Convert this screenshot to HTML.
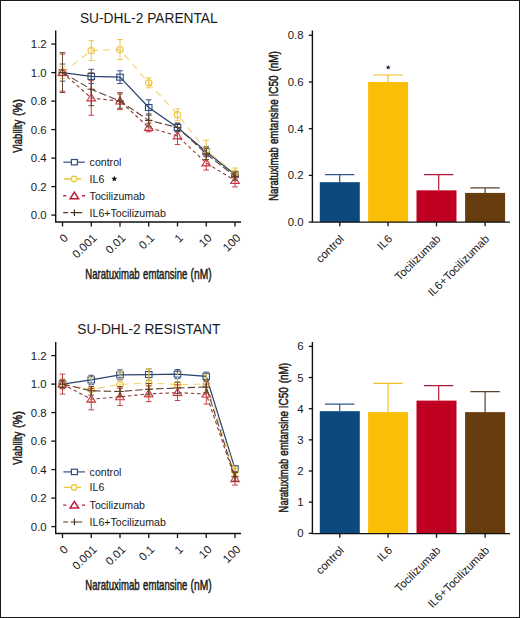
<!DOCTYPE html>
<html><head><meta charset="utf-8"><style>
html,body{margin:0;padding:0;background:#fff;width:520px;height:618px;overflow:hidden}
svg{display:block}
text{font-family:"Liberation Sans", sans-serif}
</style></head><body>
<svg width="520" height="618" viewBox="0 0 520 618" font-family='"Liberation Sans", sans-serif'>
<rect x="0" y="0" width="520" height="618" fill="#fff"/>
<text x="79.9" y="22.60" font-size="14.5" textLength="137.8" lengthAdjust="spacingAndGlyphs" fill="#1a1a1a">SU-DHL-2 PARENTAL</text>
<path d="M55.7,30.50 V222.00 H241.0" fill="none" stroke="#111" stroke-width="1.4"/>
<path d="M51.3,215.10 H55.7" stroke="#111" stroke-width="1.3"/>
<text x="46.7" y="219.15" font-size="11.4" text-anchor="end" fill="#1a1a1a">0.0</text>
<path d="M51.3,186.60 H55.7" stroke="#111" stroke-width="1.3"/>
<text x="46.7" y="190.65" font-size="11.4" text-anchor="end" fill="#1a1a1a">0.2</text>
<path d="M51.3,158.10 H55.7" stroke="#111" stroke-width="1.3"/>
<text x="46.7" y="162.15" font-size="11.4" text-anchor="end" fill="#1a1a1a">0.4</text>
<path d="M51.3,129.60 H55.7" stroke="#111" stroke-width="1.3"/>
<text x="46.7" y="133.65" font-size="11.4" text-anchor="end" fill="#1a1a1a">0.6</text>
<path d="M51.3,101.10 H55.7" stroke="#111" stroke-width="1.3"/>
<text x="46.7" y="105.15" font-size="11.4" text-anchor="end" fill="#1a1a1a">0.8</text>
<path d="M51.3,72.60 H55.7" stroke="#111" stroke-width="1.3"/>
<text x="46.7" y="76.65" font-size="11.4" text-anchor="end" fill="#1a1a1a">1.0</text>
<path d="M51.3,44.10 H55.7" stroke="#111" stroke-width="1.3"/>
<text x="46.7" y="48.15" font-size="11.4" text-anchor="end" fill="#1a1a1a">1.2</text>
<path d="M62.50,222.00 V226.50" stroke="#111" stroke-width="1.3"/>
<text x="68.70" y="238.60" font-size="11.5" text-anchor="end" transform="rotate(-45 68.70 238.60)" fill="#1a1a1a">0</text>
<path d="M91.25,222.00 V226.50" stroke="#111" stroke-width="1.3"/>
<text x="97.45" y="238.60" font-size="11.5" text-anchor="end" transform="rotate(-45 97.45 238.60)" fill="#1a1a1a">0.001</text>
<path d="M120.00,222.00 V226.50" stroke="#111" stroke-width="1.3"/>
<text x="126.20" y="238.60" font-size="11.5" text-anchor="end" transform="rotate(-45 126.20 238.60)" fill="#1a1a1a">0.01</text>
<path d="M148.75,222.00 V226.50" stroke="#111" stroke-width="1.3"/>
<text x="154.95" y="238.60" font-size="11.5" text-anchor="end" transform="rotate(-45 154.95 238.60)" fill="#1a1a1a">0.1</text>
<path d="M177.50,222.00 V226.50" stroke="#111" stroke-width="1.3"/>
<text x="183.70" y="238.60" font-size="11.5" text-anchor="end" transform="rotate(-45 183.70 238.60)" fill="#1a1a1a">1</text>
<path d="M206.25,222.00 V226.50" stroke="#111" stroke-width="1.3"/>
<text x="212.45" y="238.60" font-size="11.5" text-anchor="end" transform="rotate(-45 212.45 238.60)" fill="#1a1a1a">10</text>
<path d="M235.00,222.00 V226.50" stroke="#111" stroke-width="1.3"/>
<text x="241.20" y="238.60" font-size="11.5" text-anchor="end" transform="rotate(-45 241.20 238.60)" fill="#1a1a1a">100</text>
<text x="85.33" y="278.60" font-size="14.4" textLength="54.24" lengthAdjust="spacingAndGlyphs" fill="#1a1a1a" stroke="#1a1a1a" stroke-width="0.5">Naratuximab</text>
<text x="143.07" y="278.60" font-size="14.4" textLength="44.25" lengthAdjust="spacingAndGlyphs" fill="#1a1a1a" stroke="#1a1a1a" stroke-width="0.5">emtansine</text>
<text x="190.58" y="278.60" font-size="14.4" textLength="21.09" lengthAdjust="spacingAndGlyphs" fill="#1a1a1a" stroke="#1a1a1a" stroke-width="0.5">(nM)</text>
<text x="-0.05" y="0" font-size="12.6" textLength="32.88" lengthAdjust="spacingAndGlyphs" fill="#1a1a1a" stroke="#1a1a1a" stroke-width="0.5" transform="translate(21.60 152.60) rotate(-90)">Viability</text>
<text x="-0.65" y="0" font-size="12.6" textLength="16.86" lengthAdjust="spacingAndGlyphs" fill="#1a1a1a" stroke="#1a1a1a" stroke-width="0.5" transform="translate(21.60 115.40) rotate(-90)">(%)</text>
<polyline points="62.50,72.60 91.25,76.45 120.00,77.16 148.75,107.51 177.50,127.46 206.25,151.69 235.00,174.49" fill="none" stroke="#2a4270" stroke-width="1.25"/>
<path d="M62.50,64.05 V81.15 M59.70,64.05 H65.30 M59.70,81.15 H65.30" stroke="#34527f" stroke-width="1.0" fill="none"/>
<path d="M91.25,69.32 V83.57 M88.45,69.32 H94.05 M88.45,83.57 H94.05" stroke="#34527f" stroke-width="1.0" fill="none"/>
<path d="M120.00,70.75 V83.57 M117.20,70.75 H122.80 M117.20,83.57 H122.80" stroke="#34527f" stroke-width="1.0" fill="none"/>
<path d="M148.75,99.82 V115.21 M145.95,99.82 H151.55 M145.95,115.21 H151.55" stroke="#34527f" stroke-width="1.0" fill="none"/>
<path d="M177.50,123.19 V131.74 M174.70,123.19 H180.30 M174.70,131.74 H180.30" stroke="#34527f" stroke-width="1.0" fill="none"/>
<path d="M206.25,146.70 V156.67 M203.45,146.70 H209.05 M203.45,156.67 H209.05" stroke="#34527f" stroke-width="1.0" fill="none"/>
<path d="M235.00,171.64 V177.34 M232.20,171.64 H237.80 M232.20,177.34 H237.80" stroke="#34527f" stroke-width="1.0" fill="none"/>
<rect x="59.25" y="69.60" width="6.50" height="6.00" fill="none" stroke="#2e4a7c" stroke-width="1.1"/>
<rect x="88.00" y="73.45" width="6.50" height="6.00" fill="none" stroke="#2e4a7c" stroke-width="1.1"/>
<rect x="116.75" y="74.16" width="6.50" height="6.00" fill="none" stroke="#2e4a7c" stroke-width="1.1"/>
<rect x="145.50" y="104.51" width="6.50" height="6.00" fill="none" stroke="#2e4a7c" stroke-width="1.1"/>
<rect x="174.25" y="124.46" width="6.50" height="6.00" fill="none" stroke="#2e4a7c" stroke-width="1.1"/>
<rect x="203.00" y="148.69" width="6.50" height="6.00" fill="none" stroke="#2e4a7c" stroke-width="1.1"/>
<rect x="231.75" y="171.49" width="6.50" height="6.00" fill="none" stroke="#2e4a7c" stroke-width="1.1"/>
<polyline points="62.50,72.60 91.25,50.66 120.00,49.52 148.75,82.86 177.50,114.64 206.25,150.26 235.00,173.06" fill="none" stroke="#f3d370" stroke-width="1.1" stroke-dasharray="7 5"/>
<path d="M62.50,66.90 V78.30 M59.70,66.90 H65.30 M59.70,78.30 H65.30" stroke="#efc648" stroke-width="1.0" fill="none"/>
<path d="M91.25,40.68 V60.63 M88.45,40.68 H94.05 M88.45,60.63 H94.05" stroke="#efc648" stroke-width="1.0" fill="none"/>
<path d="M120.00,39.54 V59.49 M117.20,39.54 H122.80 M117.20,59.49 H122.80" stroke="#efc648" stroke-width="1.0" fill="none"/>
<path d="M148.75,77.87 V87.85 M145.95,77.87 H151.55 M145.95,87.85 H151.55" stroke="#efc648" stroke-width="1.0" fill="none"/>
<path d="M177.50,108.94 V120.34 M174.70,108.94 H180.30 M174.70,120.34 H180.30" stroke="#efc648" stroke-width="1.0" fill="none"/>
<path d="M206.25,140.29 V160.24 M203.45,140.29 H209.05 M203.45,160.24 H209.05" stroke="#efc648" stroke-width="1.0" fill="none"/>
<path d="M235.00,168.07 V178.05 M232.20,168.07 H237.80 M232.20,178.05 H237.80" stroke="#efc648" stroke-width="1.0" fill="none"/>
<ellipse cx="62.50" cy="72.60" rx="3.20" ry="3.00" fill="none" stroke="#efc232" stroke-width="1.1"/>
<ellipse cx="91.25" cy="50.66" rx="3.20" ry="3.00" fill="none" stroke="#efc232" stroke-width="1.1"/>
<ellipse cx="120.00" cy="49.52" rx="3.20" ry="3.00" fill="none" stroke="#efc232" stroke-width="1.1"/>
<ellipse cx="148.75" cy="82.86" rx="3.20" ry="3.00" fill="none" stroke="#efc232" stroke-width="1.1"/>
<ellipse cx="177.50" cy="114.64" rx="3.20" ry="3.00" fill="none" stroke="#efc232" stroke-width="1.1"/>
<ellipse cx="206.25" cy="150.26" rx="3.20" ry="3.00" fill="none" stroke="#efc232" stroke-width="1.1"/>
<ellipse cx="235.00" cy="173.06" rx="3.20" ry="3.00" fill="none" stroke="#efc232" stroke-width="1.1"/>
<polyline points="62.50,72.60 91.25,97.97 120.00,101.10 148.75,127.46 177.50,136.01 206.25,162.94 235.00,180.47" fill="none" stroke="#8e3a36" stroke-width="1.1" stroke-dasharray="3.5 2.8"/>
<path d="M62.50,54.08 V91.12 M59.70,54.08 H65.30 M59.70,91.12 H65.30" stroke="#c8404a" stroke-width="1.0" fill="none"/>
<path d="M91.25,80.72 V115.21 M88.45,80.72 H94.05 M88.45,115.21 H94.05" stroke="#c8404a" stroke-width="1.0" fill="none"/>
<path d="M120.00,92.55 V109.65 M117.20,92.55 H122.80 M117.20,109.65 H122.80" stroke="#c8404a" stroke-width="1.0" fill="none"/>
<path d="M148.75,123.19 V131.74 M145.95,123.19 H151.55 M145.95,131.74 H151.55" stroke="#c8404a" stroke-width="1.0" fill="none"/>
<path d="M177.50,127.46 V144.56 M174.70,127.46 H180.30 M174.70,144.56 H180.30" stroke="#c8404a" stroke-width="1.0" fill="none"/>
<path d="M206.25,155.82 V170.07 M203.45,155.82 H209.05 M203.45,170.07 H209.05" stroke="#c8404a" stroke-width="1.0" fill="none"/>
<path d="M235.00,174.06 V186.88 M232.20,174.06 H237.80 M232.20,186.88 H237.80" stroke="#c8404a" stroke-width="1.0" fill="none"/>
<path d="M62.50,68.40 L66.80,75.50 L58.20,75.50 Z" fill="none" stroke="#cc3344" stroke-width="1.1" stroke-linejoin="miter"/>
<path d="M91.25,93.77 L95.55,100.87 L86.95,100.87 Z" fill="none" stroke="#cc3344" stroke-width="1.1" stroke-linejoin="miter"/>
<path d="M120.00,96.90 L124.30,104.00 L115.70,104.00 Z" fill="none" stroke="#cc3344" stroke-width="1.1" stroke-linejoin="miter"/>
<path d="M148.75,123.26 L153.05,130.36 L144.45,130.36 Z" fill="none" stroke="#cc3344" stroke-width="1.1" stroke-linejoin="miter"/>
<path d="M177.50,131.81 L181.80,138.91 L173.20,138.91 Z" fill="none" stroke="#cc3344" stroke-width="1.1" stroke-linejoin="miter"/>
<path d="M206.25,158.75 L210.55,165.84 L201.95,165.84 Z" fill="none" stroke="#cc3344" stroke-width="1.1" stroke-linejoin="miter"/>
<path d="M235.00,176.27 L239.30,183.37 L230.70,183.37 Z" fill="none" stroke="#cc3344" stroke-width="1.1" stroke-linejoin="miter"/>
<polyline points="62.50,72.60 91.25,89.27 120.00,101.10 148.75,120.34 177.50,127.46 206.25,153.82 235.00,176.34" fill="none" stroke="#5e4030" stroke-width="1.1" stroke-dasharray="7.5 3"/>
<path d="M62.50,52.65 V92.55 M59.70,52.65 H65.30 M59.70,92.55 H65.30" stroke="#6a4a30" stroke-width="1.0" fill="none"/>
<path d="M91.25,72.88 V105.66 M88.45,72.88 H94.05 M88.45,105.66 H94.05" stroke="#6a4a30" stroke-width="1.0" fill="none"/>
<path d="M120.00,93.97 V108.22 M117.20,93.97 H122.80 M117.20,108.22 H122.80" stroke="#6a4a30" stroke-width="1.0" fill="none"/>
<path d="M148.75,113.92 V126.75 M145.95,113.92 H151.55 M145.95,126.75 H151.55" stroke="#6a4a30" stroke-width="1.0" fill="none"/>
<path d="M177.50,123.19 V131.74 M174.70,123.19 H180.30 M174.70,131.74 H180.30" stroke="#6a4a30" stroke-width="1.0" fill="none"/>
<path d="M206.25,148.12 V159.52 M203.45,148.12 H209.05 M203.45,159.52 H209.05" stroke="#6a4a30" stroke-width="1.0" fill="none"/>
<path d="M235.00,172.06 V180.62 M232.20,172.06 H237.80 M232.20,180.62 H237.80" stroke="#6a4a30" stroke-width="1.0" fill="none"/>
<path d="M58.70,72.60 H66.30 M62.50,68.80 V76.40" stroke="#5e3c20" stroke-width="1.1" fill="none"/>
<path d="M87.45,89.27 H95.05 M91.25,85.47 V93.07" stroke="#5e3c20" stroke-width="1.1" fill="none"/>
<path d="M116.20,101.10 H123.80 M120.00,97.30 V104.90" stroke="#5e3c20" stroke-width="1.1" fill="none"/>
<path d="M144.95,120.34 H152.55 M148.75,116.54 V124.14" stroke="#5e3c20" stroke-width="1.1" fill="none"/>
<path d="M173.70,127.46 H181.30 M177.50,123.66 V131.26" stroke="#5e3c20" stroke-width="1.1" fill="none"/>
<path d="M202.45,153.82 H210.05 M206.25,150.02 V157.62" stroke="#5e3c20" stroke-width="1.1" fill="none"/>
<path d="M231.20,176.34 H238.80 M235.00,172.54 V180.14" stroke="#5e3c20" stroke-width="1.1" fill="none"/>
<path d="M63.4,162.20 H84.9" stroke="#2f4f82" stroke-width="1.2"/>
<rect x="71.4" y="159.50" width="6" height="5.4" fill="#fff" stroke="#2f4f82" stroke-width="1.2"/>
<text x="89.6" y="166.00" font-size="10.6" fill="#1a1a1a">control</text>
<path d="M63.6,179.00 H71 M77.2,179.00 H81.2" stroke="#ecc43c" stroke-width="1.3"/>
<circle cx="74.1" cy="179.00" r="2.8" fill="#fffbe0" stroke="#eec43a" stroke-width="1.2"/>
<text x="89.6" y="182.80" font-size="10.6" fill="#1a1a1a">IL6</text>
<polygon points="114.30,175.80 115.15,177.63 117.15,177.87 115.68,179.25 116.06,181.23 114.30,180.25 112.54,181.23 112.92,179.25 111.45,177.87 113.45,177.63" fill="#111"/>
<path d="M63.2,195.80 H66.3 M82.0,195.80 H85" stroke="#c01c3c" stroke-width="1.4"/>
<path d="M74.35,192.10 L78.6,198.80 L70.1,198.80 Z" fill="none" stroke="#c01c3c" stroke-width="1.5"/>
<text x="89.6" y="199.60" font-size="10.6" fill="#1a1a1a">Tocilizumab</text>
<path d="M63.2,212.70 H68.1 M70.5,212.70 H82.2 M74.4,209.40 V216.00" stroke="#4a3520" stroke-width="1.2"/>
<text x="89.6" y="216.50" font-size="10.6" fill="#1a1a1a">IL6+Tocilizumab</text>
<text x="77.3" y="334.10" font-size="14.5" textLength="143.1" lengthAdjust="spacingAndGlyphs" fill="#1a1a1a">SU-DHL-2 RESISTANT</text>
<path d="M55.7,342.00 V533.50 H241.0" fill="none" stroke="#111" stroke-width="1.4"/>
<path d="M51.3,526.60 H55.7" stroke="#111" stroke-width="1.3"/>
<text x="46.7" y="530.65" font-size="11.4" text-anchor="end" fill="#1a1a1a">0.0</text>
<path d="M51.3,498.10 H55.7" stroke="#111" stroke-width="1.3"/>
<text x="46.7" y="502.15" font-size="11.4" text-anchor="end" fill="#1a1a1a">0.2</text>
<path d="M51.3,469.60 H55.7" stroke="#111" stroke-width="1.3"/>
<text x="46.7" y="473.65" font-size="11.4" text-anchor="end" fill="#1a1a1a">0.4</text>
<path d="M51.3,441.10 H55.7" stroke="#111" stroke-width="1.3"/>
<text x="46.7" y="445.15" font-size="11.4" text-anchor="end" fill="#1a1a1a">0.6</text>
<path d="M51.3,412.60 H55.7" stroke="#111" stroke-width="1.3"/>
<text x="46.7" y="416.65" font-size="11.4" text-anchor="end" fill="#1a1a1a">0.8</text>
<path d="M51.3,384.10 H55.7" stroke="#111" stroke-width="1.3"/>
<text x="46.7" y="388.15" font-size="11.4" text-anchor="end" fill="#1a1a1a">1.0</text>
<path d="M51.3,355.60 H55.7" stroke="#111" stroke-width="1.3"/>
<text x="46.7" y="359.65" font-size="11.4" text-anchor="end" fill="#1a1a1a">1.2</text>
<path d="M62.50,533.50 V538.00" stroke="#111" stroke-width="1.3"/>
<text x="68.70" y="550.10" font-size="11.5" text-anchor="end" transform="rotate(-45 68.70 550.10)" fill="#1a1a1a">0</text>
<path d="M91.25,533.50 V538.00" stroke="#111" stroke-width="1.3"/>
<text x="97.45" y="550.10" font-size="11.5" text-anchor="end" transform="rotate(-45 97.45 550.10)" fill="#1a1a1a">0.001</text>
<path d="M120.00,533.50 V538.00" stroke="#111" stroke-width="1.3"/>
<text x="126.20" y="550.10" font-size="11.5" text-anchor="end" transform="rotate(-45 126.20 550.10)" fill="#1a1a1a">0.01</text>
<path d="M148.75,533.50 V538.00" stroke="#111" stroke-width="1.3"/>
<text x="154.95" y="550.10" font-size="11.5" text-anchor="end" transform="rotate(-45 154.95 550.10)" fill="#1a1a1a">0.1</text>
<path d="M177.50,533.50 V538.00" stroke="#111" stroke-width="1.3"/>
<text x="183.70" y="550.10" font-size="11.5" text-anchor="end" transform="rotate(-45 183.70 550.10)" fill="#1a1a1a">1</text>
<path d="M206.25,533.50 V538.00" stroke="#111" stroke-width="1.3"/>
<text x="212.45" y="550.10" font-size="11.5" text-anchor="end" transform="rotate(-45 212.45 550.10)" fill="#1a1a1a">10</text>
<path d="M235.00,533.50 V538.00" stroke="#111" stroke-width="1.3"/>
<text x="241.20" y="550.10" font-size="11.5" text-anchor="end" transform="rotate(-45 241.20 550.10)" fill="#1a1a1a">100</text>
<text x="85.33" y="590.10" font-size="14.4" textLength="54.24" lengthAdjust="spacingAndGlyphs" fill="#1a1a1a" stroke="#1a1a1a" stroke-width="0.5">Naratuximab</text>
<text x="143.07" y="590.10" font-size="14.4" textLength="44.25" lengthAdjust="spacingAndGlyphs" fill="#1a1a1a" stroke="#1a1a1a" stroke-width="0.5">emtansine</text>
<text x="190.58" y="590.10" font-size="14.4" textLength="21.09" lengthAdjust="spacingAndGlyphs" fill="#1a1a1a" stroke="#1a1a1a" stroke-width="0.5">(nM)</text>
<text x="-0.05" y="0" font-size="12.6" textLength="32.88" lengthAdjust="spacingAndGlyphs" fill="#1a1a1a" stroke="#1a1a1a" stroke-width="0.5" transform="translate(21.60 464.60) rotate(-90)">Viability</text>
<text x="-0.65" y="0" font-size="12.6" textLength="16.86" lengthAdjust="spacingAndGlyphs" fill="#1a1a1a" stroke="#1a1a1a" stroke-width="0.5" transform="translate(21.60 427.40) rotate(-90)">(%)</text>
<polyline points="62.50,384.10 91.25,379.97 120.00,374.84 148.75,374.55 177.50,374.12 206.25,376.41 235.00,468.89" fill="none" stroke="#2a4270" stroke-width="1.25"/>
<path d="M62.50,379.83 V388.38 M59.70,379.83 H65.30 M59.70,388.38 H65.30" stroke="#34527f" stroke-width="1.0" fill="none"/>
<path d="M91.25,375.27 V384.67 M88.45,375.27 H94.05 M88.45,384.67 H94.05" stroke="#34527f" stroke-width="1.0" fill="none"/>
<path d="M120.00,369.85 V379.83 M117.20,369.85 H122.80 M117.20,379.83 H122.80" stroke="#34527f" stroke-width="1.0" fill="none"/>
<path d="M148.75,368.85 V380.25 M145.95,368.85 H151.55 M145.95,380.25 H151.55" stroke="#34527f" stroke-width="1.0" fill="none"/>
<path d="M177.50,369.56 V378.69 M174.70,369.56 H180.30 M174.70,378.69 H180.30" stroke="#34527f" stroke-width="1.0" fill="none"/>
<path d="M206.25,372.13 V380.68 M203.45,372.13 H209.05 M203.45,380.68 H209.05" stroke="#34527f" stroke-width="1.0" fill="none"/>
<path d="M235.00,466.04 V471.74 M232.20,466.04 H237.80 M232.20,471.74 H237.80" stroke="#34527f" stroke-width="1.0" fill="none"/>
<rect x="59.25" y="381.10" width="6.50" height="6.00" fill="none" stroke="#2e4a7c" stroke-width="1.1"/>
<rect x="88.00" y="376.97" width="6.50" height="6.00" fill="none" stroke="#2e4a7c" stroke-width="1.1"/>
<rect x="116.75" y="371.84" width="6.50" height="6.00" fill="none" stroke="#2e4a7c" stroke-width="1.1"/>
<rect x="145.50" y="371.55" width="6.50" height="6.00" fill="none" stroke="#2e4a7c" stroke-width="1.1"/>
<rect x="174.25" y="371.12" width="6.50" height="6.00" fill="none" stroke="#2e4a7c" stroke-width="1.1"/>
<rect x="203.00" y="373.41" width="6.50" height="6.00" fill="none" stroke="#2e4a7c" stroke-width="1.1"/>
<rect x="231.75" y="465.89" width="6.50" height="6.00" fill="none" stroke="#2e4a7c" stroke-width="1.1"/>
<polyline points="62.50,384.10 91.25,389.51 120.00,384.53 148.75,382.96 177.50,384.53 206.25,384.10 235.00,471.03" fill="none" stroke="#f3d370" stroke-width="1.1" stroke-dasharray="7 5"/>
<path d="M62.50,378.40 V389.80 M59.70,378.40 H65.30 M59.70,389.80 H65.30" stroke="#efc648" stroke-width="1.0" fill="none"/>
<path d="M91.25,377.40 V401.63 M88.45,377.40 H94.05 M88.45,401.63 H94.05" stroke="#efc648" stroke-width="1.0" fill="none"/>
<path d="M120.00,371.70 V397.35 M117.20,371.70 H122.80 M117.20,397.35 H122.80" stroke="#efc648" stroke-width="1.0" fill="none"/>
<path d="M148.75,368.71 V397.21 M145.95,368.71 H151.55 M145.95,397.21 H151.55" stroke="#efc648" stroke-width="1.0" fill="none"/>
<path d="M177.50,373.13 V395.93 M174.70,373.13 H180.30 M174.70,395.93 H180.30" stroke="#efc648" stroke-width="1.0" fill="none"/>
<path d="M206.25,374.12 V394.08 M203.45,374.12 H209.05 M203.45,394.08 H209.05" stroke="#efc648" stroke-width="1.0" fill="none"/>
<path d="M235.00,466.75 V475.30 M232.20,466.75 H237.80 M232.20,475.30 H237.80" stroke="#efc648" stroke-width="1.0" fill="none"/>
<ellipse cx="62.50" cy="384.10" rx="3.20" ry="3.00" fill="none" stroke="#efc232" stroke-width="1.1"/>
<ellipse cx="91.25" cy="389.51" rx="3.20" ry="3.00" fill="none" stroke="#efc232" stroke-width="1.1"/>
<ellipse cx="120.00" cy="384.53" rx="3.20" ry="3.00" fill="none" stroke="#efc232" stroke-width="1.1"/>
<ellipse cx="148.75" cy="382.96" rx="3.20" ry="3.00" fill="none" stroke="#efc232" stroke-width="1.1"/>
<ellipse cx="177.50" cy="384.53" rx="3.20" ry="3.00" fill="none" stroke="#efc232" stroke-width="1.1"/>
<ellipse cx="206.25" cy="384.10" rx="3.20" ry="3.00" fill="none" stroke="#efc232" stroke-width="1.1"/>
<ellipse cx="235.00" cy="471.03" rx="3.20" ry="3.00" fill="none" stroke="#efc232" stroke-width="1.1"/>
<polyline points="62.50,384.10 91.25,399.21 120.00,396.93 148.75,393.79 177.50,392.65 206.25,394.08 235.00,478.72" fill="none" stroke="#8e3a36" stroke-width="1.1" stroke-dasharray="3.5 2.8"/>
<path d="M62.50,374.12 V394.08 M59.70,374.12 H65.30 M59.70,394.08 H65.30" stroke="#c8404a" stroke-width="1.0" fill="none"/>
<path d="M91.25,388.52 V409.89 M88.45,388.52 H94.05 M88.45,409.89 H94.05" stroke="#c8404a" stroke-width="1.0" fill="none"/>
<path d="M120.00,388.38 V405.48 M117.20,388.38 H122.80 M117.20,405.48 H122.80" stroke="#c8404a" stroke-width="1.0" fill="none"/>
<path d="M148.75,385.95 V401.63 M145.95,385.95 H151.55 M145.95,401.63 H151.55" stroke="#c8404a" stroke-width="1.0" fill="none"/>
<path d="M177.50,384.81 V400.49 M174.70,384.81 H180.30 M174.70,400.49 H180.30" stroke="#c8404a" stroke-width="1.0" fill="none"/>
<path d="M206.25,384.10 V404.05 M203.45,384.10 H209.05 M203.45,404.05 H209.05" stroke="#c8404a" stroke-width="1.0" fill="none"/>
<path d="M235.00,472.31 V485.13 M232.20,472.31 H237.80 M232.20,485.13 H237.80" stroke="#c8404a" stroke-width="1.0" fill="none"/>
<path d="M62.50,379.90 L66.80,387.00 L58.20,387.00 Z" fill="none" stroke="#cc3344" stroke-width="1.1" stroke-linejoin="miter"/>
<path d="M91.25,395.01 L95.55,402.11 L86.95,402.11 Z" fill="none" stroke="#cc3344" stroke-width="1.1" stroke-linejoin="miter"/>
<path d="M120.00,392.73 L124.30,399.82 L115.70,399.82 Z" fill="none" stroke="#cc3344" stroke-width="1.1" stroke-linejoin="miter"/>
<path d="M148.75,389.59 L153.05,396.69 L144.45,396.69 Z" fill="none" stroke="#cc3344" stroke-width="1.1" stroke-linejoin="miter"/>
<path d="M177.50,388.45 L181.80,395.55 L173.20,395.55 Z" fill="none" stroke="#cc3344" stroke-width="1.1" stroke-linejoin="miter"/>
<path d="M206.25,389.88 L210.55,396.98 L201.95,396.98 Z" fill="none" stroke="#cc3344" stroke-width="1.1" stroke-linejoin="miter"/>
<path d="M235.00,474.52 L239.30,481.62 L230.70,481.62 Z" fill="none" stroke="#cc3344" stroke-width="1.1" stroke-linejoin="miter"/>
<polyline points="62.50,384.10 91.25,390.80 120.00,391.51 148.75,389.23 177.50,387.95 206.25,386.95 235.00,476.73" fill="none" stroke="#5e4030" stroke-width="1.1" stroke-dasharray="7.5 3"/>
<path d="M62.50,380.54 V387.66 M59.70,380.54 H65.30 M59.70,387.66 H65.30" stroke="#6a4a30" stroke-width="1.0" fill="none"/>
<path d="M91.25,386.52 V395.07 M88.45,386.52 H94.05 M88.45,395.07 H94.05" stroke="#6a4a30" stroke-width="1.0" fill="none"/>
<path d="M120.00,386.52 V396.50 M117.20,386.52 H122.80 M117.20,396.50 H122.80" stroke="#6a4a30" stroke-width="1.0" fill="none"/>
<path d="M148.75,383.53 V394.93 M145.95,383.53 H151.55 M145.95,394.93 H151.55" stroke="#6a4a30" stroke-width="1.0" fill="none"/>
<path d="M177.50,382.25 V393.65 M174.70,382.25 H180.30 M174.70,393.65 H180.30" stroke="#6a4a30" stroke-width="1.0" fill="none"/>
<path d="M206.25,381.25 V392.65 M203.45,381.25 H209.05 M203.45,392.65 H209.05" stroke="#6a4a30" stroke-width="1.0" fill="none"/>
<path d="M235.00,472.45 V481.00 M232.20,472.45 H237.80 M232.20,481.00 H237.80" stroke="#6a4a30" stroke-width="1.0" fill="none"/>
<path d="M58.70,384.10 H66.30 M62.50,380.30 V387.90" stroke="#5e3c20" stroke-width="1.1" fill="none"/>
<path d="M87.45,390.80 H95.05 M91.25,387.00 V394.60" stroke="#5e3c20" stroke-width="1.1" fill="none"/>
<path d="M116.20,391.51 H123.80 M120.00,387.71 V395.31" stroke="#5e3c20" stroke-width="1.1" fill="none"/>
<path d="M144.95,389.23 H152.55 M148.75,385.43 V393.03" stroke="#5e3c20" stroke-width="1.1" fill="none"/>
<path d="M173.70,387.95 H181.30 M177.50,384.15 V391.75" stroke="#5e3c20" stroke-width="1.1" fill="none"/>
<path d="M202.45,386.95 H210.05 M206.25,383.15 V390.75" stroke="#5e3c20" stroke-width="1.1" fill="none"/>
<path d="M231.20,476.73 H238.80 M235.00,472.93 V480.53" stroke="#5e3c20" stroke-width="1.1" fill="none"/>
<path d="M63.4,471.90 H84.9" stroke="#2f4f82" stroke-width="1.2"/>
<rect x="71.4" y="469.20" width="6" height="5.4" fill="#fff" stroke="#2f4f82" stroke-width="1.2"/>
<text x="89.6" y="475.70" font-size="10.6" fill="#1a1a1a">control</text>
<path d="M63.6,487.40 H71 M77.2,487.40 H81.2" stroke="#ecc43c" stroke-width="1.3"/>
<circle cx="74.1" cy="487.40" r="2.8" fill="#fffbe0" stroke="#eec43a" stroke-width="1.2"/>
<text x="89.6" y="491.20" font-size="10.6" fill="#1a1a1a">IL6</text>
<path d="M63.2,505.10 H66.3 M82.0,505.10 H85" stroke="#c01c3c" stroke-width="1.4"/>
<path d="M74.35,501.40 L78.6,508.10 L70.1,508.10 Z" fill="none" stroke="#c01c3c" stroke-width="1.5"/>
<text x="89.6" y="508.90" font-size="10.6" fill="#1a1a1a">Tocilizumab</text>
<path d="M63.2,522.00 H68.1 M70.5,522.00 H82.2 M74.4,518.70 V525.30" stroke="#4a3520" stroke-width="1.2"/>
<text x="89.6" y="525.80" font-size="10.6" fill="#1a1a1a">IL6+Tocilizumab</text>
<rect x="319.80" y="182.17" width="40" height="39.93" fill="#0b497e"/>
<path d="M339.70,182.17 V174.70 M325.00,174.70 H354.40" stroke="#2a5a8c" stroke-width="1.2" fill="none"/>
<rect x="368.10" y="82.00" width="40" height="140.10" fill="#fabe07"/>
<path d="M388.00,82.00 V75.00 M373.30,75.00 H402.70" stroke="#f0c020" stroke-width="1.2" fill="none"/>
<rect x="416.50" y="190.34" width="40" height="31.76" fill="#c00022"/>
<path d="M438.70,190.34 V174.70 M424.00,174.70 H453.40" stroke="#b01c38" stroke-width="1.2" fill="none"/>
<rect x="465.10" y="192.91" width="40" height="29.19" fill="#673d10"/>
<path d="M485.10,192.91 V187.78 M470.40,187.78 H499.80" stroke="#5a4028" stroke-width="1.2" fill="none"/>
<path d="M312.4,30.50 V222.10 H510" fill="none" stroke="#111" stroke-width="1.4"/>
<path d="M308.8,222.10 H312.4" stroke="#111" stroke-width="1.3"/>
<text x="303.5" y="226.15" font-size="11.4" text-anchor="end" fill="#1a1a1a">0.0</text>
<path d="M308.8,175.40 H312.4" stroke="#111" stroke-width="1.3"/>
<text x="303.5" y="179.45" font-size="11.4" text-anchor="end" fill="#1a1a1a">0.2</text>
<path d="M308.8,128.70 H312.4" stroke="#111" stroke-width="1.3"/>
<text x="303.5" y="132.75" font-size="11.4" text-anchor="end" fill="#1a1a1a">0.4</text>
<path d="M308.8,82.00 H312.4" stroke="#111" stroke-width="1.3"/>
<text x="303.5" y="86.05" font-size="11.4" text-anchor="end" fill="#1a1a1a">0.6</text>
<path d="M308.8,35.30 H312.4" stroke="#111" stroke-width="1.3"/>
<text x="303.5" y="39.35" font-size="11.4" text-anchor="end" fill="#1a1a1a">0.8</text>
<path d="M339.80,222.10 V226.30" stroke="#111" stroke-width="1.3"/>
<text x="344.60" y="239.60" font-size="11.3" text-anchor="end" transform="rotate(-45 344.60 239.60)" fill="#1a1a1a">control</text>
<path d="M388.10,222.10 V226.30" stroke="#111" stroke-width="1.3"/>
<text x="392.90" y="239.60" font-size="11.3" text-anchor="end" transform="rotate(-45 392.90 239.60)" fill="#1a1a1a">IL6</text>
<path d="M436.50,222.10 V226.30" stroke="#111" stroke-width="1.3"/>
<text x="441.30" y="239.60" font-size="11.3" text-anchor="end" transform="rotate(-45 441.30 239.60)" fill="#1a1a1a">Tocilizumab</text>
<path d="M485.10,222.10 V226.30" stroke="#111" stroke-width="1.3"/>
<text x="489.90" y="239.60" font-size="11.3" text-anchor="end" transform="rotate(-45 489.90 239.60)" fill="#1a1a1a">IL6+Tocilizumab</text>
<text x="-0.76" y="0" font-size="13.2" textLength="53.63" lengthAdjust="spacingAndGlyphs" fill="#1a1a1a" stroke="#1a1a1a" stroke-width="0.5" transform="translate(278.20 200.00) rotate(-90)">Naratuximab</text>
<text x="-0.44" y="0" font-size="13.2" textLength="44.66" lengthAdjust="spacingAndGlyphs" fill="#1a1a1a" stroke="#1a1a1a" stroke-width="0.5" transform="translate(278.20 143.60) rotate(-90)">emtansine</text>
<text x="-0.90" y="0" font-size="13.2" textLength="21.12" lengthAdjust="spacingAndGlyphs" fill="#1a1a1a" stroke="#1a1a1a" stroke-width="0.5" transform="translate(278.20 95.60) rotate(-90)">IC50</text>
<text x="-0.60" y="0" font-size="13.2" textLength="20.45" lengthAdjust="spacingAndGlyphs" fill="#1a1a1a" stroke="#1a1a1a" stroke-width="0.5" transform="translate(278.20 71.00) rotate(-90)">(nM)</text>
<polygon points="388.20,64.90 388.91,66.43 390.58,66.63 389.34,67.77 389.67,69.42 388.20,68.60 386.73,69.42 387.06,67.77 385.82,66.63 387.49,66.43" fill="#1b2348"/>
<rect x="319.80" y="411.19" width="40" height="122.41" fill="#0b497e"/>
<path d="M339.70,411.19 V404.03 M325.00,404.03 H354.40" stroke="#2a5a8c" stroke-width="1.2" fill="none"/>
<rect x="368.10" y="412.13" width="40" height="121.47" fill="#fabe07"/>
<path d="M388.00,412.13 V383.31 M373.30,383.31 H402.70" stroke="#f0c020" stroke-width="1.2" fill="none"/>
<rect x="416.50" y="400.60" width="40" height="133.00" fill="#c00022"/>
<path d="M438.70,400.60 V385.65 M424.00,385.65 H453.40" stroke="#b01c38" stroke-width="1.2" fill="none"/>
<rect x="465.10" y="412.13" width="40" height="121.47" fill="#673d10"/>
<path d="M485.10,412.13 V391.57 M470.40,391.57 H499.80" stroke="#5a4028" stroke-width="1.2" fill="none"/>
<path d="M312.4,342.00 V533.60 H510" fill="none" stroke="#111" stroke-width="1.4"/>
<path d="M308.8,533.30 H312.4" stroke="#111" stroke-width="1.3"/>
<text x="303.5" y="537.35" font-size="11.4" text-anchor="end" fill="#1a1a1a">0</text>
<path d="M308.8,502.15 H312.4" stroke="#111" stroke-width="1.3"/>
<text x="303.5" y="506.20" font-size="11.4" text-anchor="end" fill="#1a1a1a">1</text>
<path d="M308.8,471.00 H312.4" stroke="#111" stroke-width="1.3"/>
<text x="303.5" y="475.05" font-size="11.4" text-anchor="end" fill="#1a1a1a">2</text>
<path d="M308.8,439.85 H312.4" stroke="#111" stroke-width="1.3"/>
<text x="303.5" y="443.90" font-size="11.4" text-anchor="end" fill="#1a1a1a">3</text>
<path d="M308.8,408.70 H312.4" stroke="#111" stroke-width="1.3"/>
<text x="303.5" y="412.75" font-size="11.4" text-anchor="end" fill="#1a1a1a">4</text>
<path d="M308.8,377.55 H312.4" stroke="#111" stroke-width="1.3"/>
<text x="303.5" y="381.60" font-size="11.4" text-anchor="end" fill="#1a1a1a">5</text>
<path d="M308.8,346.40 H312.4" stroke="#111" stroke-width="1.3"/>
<text x="303.5" y="350.45" font-size="11.4" text-anchor="end" fill="#1a1a1a">6</text>
<path d="M339.80,533.60 V537.80" stroke="#111" stroke-width="1.3"/>
<text x="344.60" y="551.10" font-size="11.3" text-anchor="end" transform="rotate(-45 344.60 551.10)" fill="#1a1a1a">control</text>
<path d="M388.10,533.60 V537.80" stroke="#111" stroke-width="1.3"/>
<text x="392.90" y="551.10" font-size="11.3" text-anchor="end" transform="rotate(-45 392.90 551.10)" fill="#1a1a1a">IL6</text>
<path d="M436.50,533.60 V537.80" stroke="#111" stroke-width="1.3"/>
<text x="441.30" y="551.10" font-size="11.3" text-anchor="end" transform="rotate(-45 441.30 551.10)" fill="#1a1a1a">Tocilizumab</text>
<path d="M485.10,533.60 V537.80" stroke="#111" stroke-width="1.3"/>
<text x="489.90" y="551.10" font-size="11.3" text-anchor="end" transform="rotate(-45 489.90 551.10)" fill="#1a1a1a">IL6+Tocilizumab</text>
<text x="-0.76" y="0" font-size="13.2" textLength="53.63" lengthAdjust="spacingAndGlyphs" fill="#1a1a1a" stroke="#1a1a1a" stroke-width="0.5" transform="translate(287.60 511.70) rotate(-90)">Naratuximab</text>
<text x="-0.44" y="0" font-size="13.2" textLength="44.66" lengthAdjust="spacingAndGlyphs" fill="#1a1a1a" stroke="#1a1a1a" stroke-width="0.5" transform="translate(287.60 455.30) rotate(-90)">emtansine</text>
<text x="-0.90" y="0" font-size="13.2" textLength="21.12" lengthAdjust="spacingAndGlyphs" fill="#1a1a1a" stroke="#1a1a1a" stroke-width="0.5" transform="translate(287.60 407.30) rotate(-90)">IC50</text>
<text x="-0.60" y="0" font-size="13.2" textLength="20.45" lengthAdjust="spacingAndGlyphs" fill="#1a1a1a" stroke="#1a1a1a" stroke-width="0.5" transform="translate(287.60 382.70) rotate(-90)">(nM)</text>
<rect x="0.5" y="0.5" width="519" height="617" fill="none" stroke="#1a1a1a" stroke-width="1"/>
</svg>
</body></html>
